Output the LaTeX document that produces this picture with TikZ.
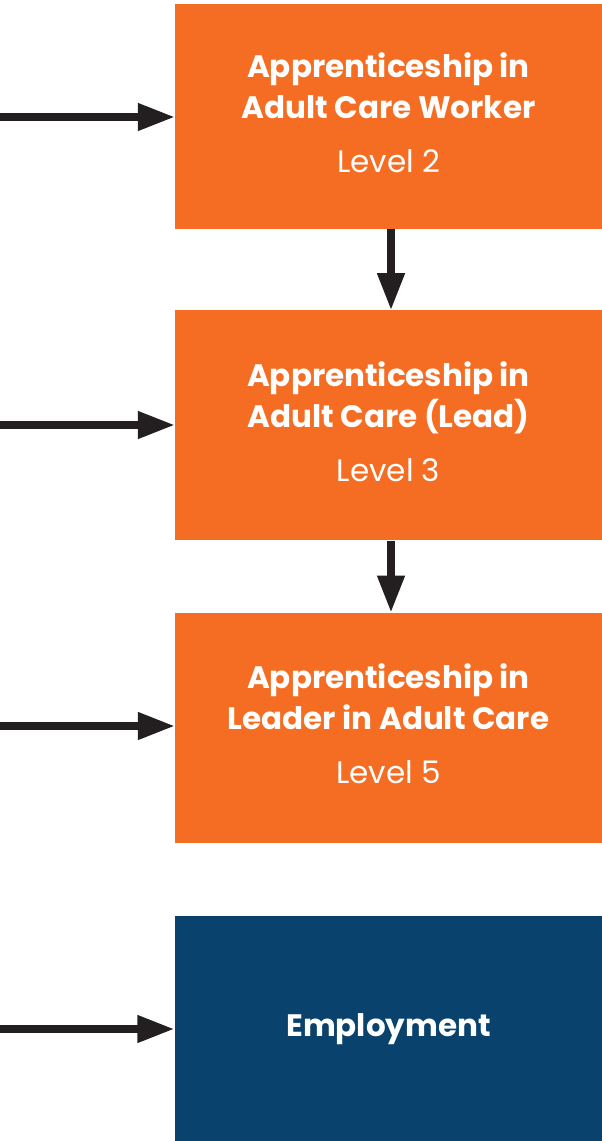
\documentclass[tikz,border=0pt]{standalone}
\usepackage{fontspec}
\setmainfont{Poppins}
\usetikzlibrary{arrows.meta,positioning}

\definecolor{careorange}{HTML}{F46D22}
\definecolor{carenavy}{HTML}{09426D}
\definecolor{arrowdark}{HTML}{231F20}

\newcommand{\lift}{\rule[-8pt]{0pt}{8pt}}

\begin{document}
\begin{tikzpicture}[x=1pt,y=-1pt,node distance=80pt]
  \tikzset{stage/.style={rectangle,fill=careorange,text=white,align=center,
      minimum width=427pt,minimum height=225pt,inner sep=0pt,
      font=\fontsize{31}{41}\selectfont},
    job/.style={stage,fill=carenavy,minimum width=428pt,minimum height=226pt},
    flow/.style={draw=arrowdark,fill=arrowdark,line width=7.5pt,
      -{Triangle[length=37pt,width=26pt]}}}
  \useasboundingbox (0,0) rectangle (602,1141);

  \node[stage] (worker) at (388.5,116.5)
    {\bfseries Apprenticeship in\\\bfseries Adult Care Worker\\[13pt]Level 2\lift};
  \node[stage,minimum height=230pt] (lead) [below=81pt of worker]
    {\bfseries Apprenticeship in\\\bfseries Adult Care (Lead)\\[13pt]Level 3\lift};
  \node[stage,minimum height=230pt] (leader) [below=72pt of lead]
    {\bfseries Apprenticeship in\\\bfseries Leader in Adult Care\\[13pt]Level 5\lift};
  \node[job] (employ) [below=73pt of leader] {\bfseries Employment};

  \coordinate (inworker) at (0,117);
  \coordinate (inlead) at (0,425);
  \coordinate (inleader) at (0,726);
  \coordinate (inemploy) at (0,1029);
  \coordinate (mid) at (391,0);

  \draw[flow] (inworker) -- (inworker -| worker.west);
  \draw[flow] (inlead) -- (inlead -| lead.west);
  \draw[flow] (inleader) -- (inleader -| leader.west);
  \draw[flow] (inemploy) -- (inemploy -| employ.west);
  \draw[flow] (worker.south -| mid) -- (lead.north -| mid);
  \draw[flow] (lead.south -| mid) -- (leader.north -| mid);
\end{tikzpicture}
\end{document}
